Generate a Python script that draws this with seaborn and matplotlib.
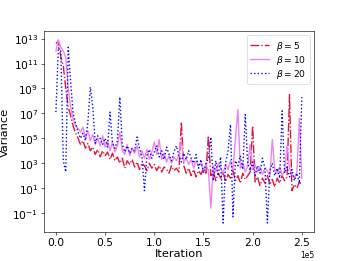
import matplotlib
matplotlib.use("Agg")
import matplotlib.pyplot as plt
import numpy as np
import pandas as pd
import seaborn as sns

# iteration grid (every 2500 iterations)
iterations = np.arange(0, 250001, 2500)

# log10 of the variance
log_var_b5 = [
    12.6, 12.8, 11.5, 10.8, 9.0, 7.5, 6.8, 6.0, 5.4, 5.0,
    4.5, 4.8, 4.2, 4.6, 4.0, 4.3, 3.7, 4.1, 3.5, 4.0,
    3.6, 3.9, 3.3, 3.8, 3.2, 3.5, 3.0, 3.4, 2.6, 3.2,
    2.9, 3.3, 2.7, 3.1, 2.5, 3.0, 2.8, 2.4, 3.0, 2.6,
    2.9, 2.4, 2.8, 2.3, 2.7, 2.5, 2.2, 2.8, 2.4, 2.6,
    2.3, 6.3, 2.8, 2.2, 2.6, 2.0, 2.5, 1.9, 2.4, 2.1,
    2.6, 2.2, 5.2, 2.0, 2.4, 1.6, 2.2, 1.8, 2.3, 1.5,
    2.1, 1.8, 2.4, 1.6, 2.0, 1.4, 2.2, 1.7, 2.0, 2.3,
    6.0, 1.5, 1.9, 1.2, 1.8, 1.4, 2.0, 1.3, 1.7, 1.1,
    1.8, 1.4, 2.0, 1.6, 1.9, 8.5, 0.8, 1.3, 1.0, 1.5,
    1.2,
]
log_var_b10 = [
    12.0, 12.9, 12.3, 12.0, 11.5, 9.0, 7.5, 6.5, 6.0, 5.8,
    5.5, 5.9, 5.0, 5.6, 4.8, 5.3, 4.5, 5.0, 4.4, 5.2,
    4.3, 4.8, 4.0, 4.7, 3.9, 4.4, 5.5, 4.0, 3.7, 4.5,
    3.6, 4.2, 3.8, 4.4, 3.5, 4.0, 3.4, 4.1, 3.3, 3.9,
    4.7, 3.7, 4.9, 3.3, 3.8, 3.1, 3.6, 3.0, 3.5, 3.2,
    3.7, 4.8, 3.1, 3.4, 2.9, 3.3, 2.6, 3.2, 2.8, 3.0,
    2.4, 2.9, 2.4, -0.6, 2.8, 2.3, 3.0, 2.6, 2.2, 2.9,
    2.5, 3.2, 2.4, 5.0, 7.3, 2.6, 3.0, 2.3, 2.8, 4.5,
    2.5, 2.9, 2.3, 2.7, 2.1, 2.6, 2.4, 2.0, 4.9, 2.5,
    2.2, 2.7, 2.0, 2.4, 4.4, 2.6, 2.1, 1.8, 2.3, 6.6,
    1.8,
]
log_var_b20 = [
    7.1, 12.3, 12.0, 3.2, 2.3, 12.3, 9.5, 7.0, 6.2, 5.5,
    5.0, 5.4, 4.8, 6.3, 9.1, 7.5, 4.6, 5.2, 5.0, 4.5,
    5.0, 4.3, 7.1, 4.6, 4.2, 4.8, 8.3, 4.5, 3.9, 4.4,
    3.8, 4.2, 4.0, 5.1, 4.2, 3.5, 0.8, 3.6, 4.1, 3.4,
    3.9, 4.4, 3.5, 4.0, 3.3, 4.3, 3.7, 3.2, 3.9, 4.4,
    3.6, 3.1, 3.8, 3.3, 4.0, 3.4, 3.0, 3.7, 2.6, 3.3,
    2.2, 3.0, 3.4, 5.1, 1.6, 3.2, 2.0, 3.5, -1.8, 3.0,
    4.0, 6.1, -1.3, 3.2, 2.8, 3.6, 2.5, 6.9, 3.0, 2.4,
    3.1, 2.0, 2.8, 2.2, 3.4, 2.6, -1.8, 2.4, 3.0, 2.0,
    2.6, 1.8, 7.2, 2.2, 2.7, 1.9, 2.5, 1.6, 2.2, 1.4,
    8.3,
]

labels = [r"$\beta=5$", r"$\beta=10$", r"$\beta=20$"]
colors = ["crimson", "violet", "blue"]
dashes = ["-.", "-", ":"]

fig, ax = plt.subplots(figsize=(6.4, 4.8), dpi=349 / 6.4)

for logv, lab, col, ls in zip([log_var_b5, log_var_b10, log_var_b20], labels, colors, dashes):
    df = pd.DataFrame({"Iteration": iterations, "Variance": 10.0 ** np.array(logv)})
    sns.lineplot(data=df, x="Iteration", y="Variance", ax=ax,
                 color=col, linestyle=ls, linewidth=1.8, label=lab)

ax.set_yscale("log")
ax.ticklabel_format(axis="x", style="sci", scilimits=(0, 0))
ax.set_xlabel("Iteration", fontsize=15, labelpad=1)
ax.set_ylabel("Variance", fontsize=15)
ax.tick_params(labelsize=14)
ax.legend(loc="upper right", fontsize=12, labelspacing=0.15)

plt.savefig("out.png", dpi=349 / 6.4)
